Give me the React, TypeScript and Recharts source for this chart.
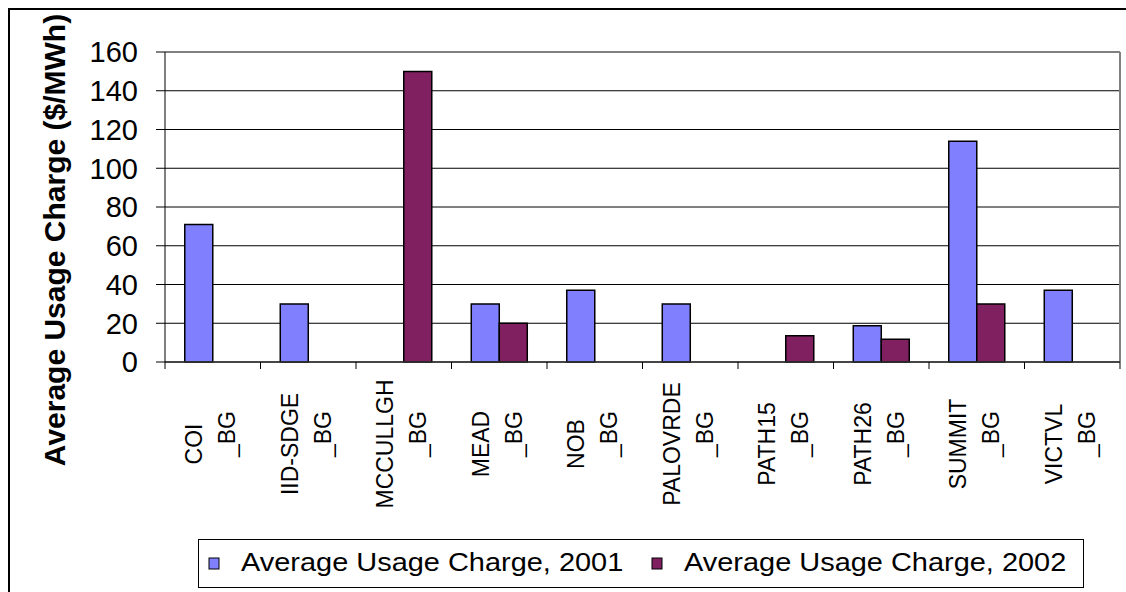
import React from 'react';
import { BarChart, Bar, XAxis, YAxis, CartesianGrid, Legend, Label } from 'recharts';

// Average usage charge by branch group, $/MWh
const categories = [
  'COI_BG',
  'IID-SDGE_BG',
  'MCCULLGH_BG',
  'MEAD_BG',
  'NOB_BG',
  'PALOVRDE_BG',
  'PATH15_BG',
  'PATH26_BG',
  'SUMMIT_BG',
  'VICTVL_BG',
];
const charge2001: (number | null)[] = [71, 30, null, 30, 37, 30, null, 18.7, 114, 37];
const charge2002: (number | null)[] = [null, null, 150, 20, null, null, 13.5, 11.7, 30, null];
const yTicks = [0, 20, 40, 60, 80, 100, 120, 140, 160];
const seriesNames = ['Average Usage Charge, 2001', 'Average Usage Charge, 2002'];
const seriesColors = ['#8080FF', '#802060'];
const yTitle = 'Average Usage Charge ($/MWh)';

const data = categories.map((name, i) => ({
  name,
  y2001: charge2001[i],
  y2002: charge2002[i],
}));

const FONT = "'Liberation Sans', Arial, Helvetica, sans-serif";

// Category label split into two rotated lines, plus tick marks on the band edges
function CategoryTick(props: any) {
  const { x, y, payload, index, visibleTicksCount } = props;
  const half =
    payload && typeof payload.offset === 'number' && payload.offset > 0 ? payload.offset : 47.75;
  const name = String(payload?.value ?? '');
  const cut = name.lastIndexOf('_');
  const line1 = cut > 0 ? name.slice(0, cut) : name;
  const line2 = cut > 0 ? name.slice(cut) : '';
  const count = visibleTicksCount ?? categories.length;
  const isLast = index === count - 1;
  return (
    <g>
      <line x1={x - half} x2={x - half} y1={y} y2={y + 7} stroke="#000" strokeWidth={1} />
      {isLast && <line x1={x + half} x2={x + half} y1={y} y2={y + 7} stroke="#000" strokeWidth={1} />}
      <text
        transform={`translate(${x - 10.75},${y + 82}) rotate(-90)`}
        textAnchor="middle"
        fontSize={23}
        fontFamily={FONT}
        fill="#000"
      >
        {line1}
      </text>
      <text
        transform={`translate(${x + 22.25},${y + 72}) rotate(-90)`}
        textAnchor="middle"
        fontSize={23}
        fontFamily={FONT}
        fill="#000"
      >
        {line2}
      </text>
    </g>
  );
}

function AxisTitle(props: any) {
  const vb = props.viewBox || { x: 65, y: 42, width: 90, height: 310 };
  const cx = vb.x - 10;
  const cy = vb.y + vb.height / 2 + 33;
  return (
    <text
      transform={`translate(${cx},${cy}) rotate(-90)`}
      textAnchor="middle"
      fontSize={30}
      fontWeight="bold"
      fontFamily={FONT}
      fill="#000"
    >
      {yTitle}
    </text>
  );
}

function LegendBox(props: any) {
  const items = (props.payload || []) as any[];
  return (
    <div
      style={{
        width: 886,
        height: 49,
        border: '1px solid #000',
        boxSizing: 'border-box',
        background: '#fff',
      }}
    >
      <svg width={884} height={47} style={{ display: 'block' }}>
        {items.map((it, i) => {
          const x0 = 10 + i * 443;
          return (
            <g key={String(it.value)}>
              <rect x={x0} y={18} width={10} height={11} fill={it.color} stroke="#000" strokeWidth={1} />
              <text
                transform={`translate(${x0 + 32},31) scale(1.158,1)`}
                fontSize={25}
                fontFamily={FONT}
                fill="#000"
              >
                {it.value}
              </text>
            </g>
          );
        })}
      </svg>
    </div>
  );
}

// Gray frame on the top and right edges of the plot area
const frameTop = ({ offset }: any) => [offset.top];
const frameRight = ({ offset }: any) => [offset.left + offset.width];

export default function App() {
  return (
    <div
      style={{
        position: 'fixed',
        left: 8,
        top: 8,
        width: 1118,
        height: 584,
        boxSizing: 'border-box',
        borderLeft: '2px solid #000',
        borderTop: '2px solid #000',
        overflow: 'hidden',
        background: '#fff',
        fontFamily: FONT,
      }}
    >
      <BarChart
        width={1116}
        height={582}
        data={data}
        margin={{ top: 42, right: 6, left: 65, bottom: 60 }}
        barGap={0}
        barCategoryGap="20.7%"
      >
        <CartesianGrid vertical={false} stroke="#000" strokeWidth={1} />
        <CartesianGrid
          stroke="#808080"
          strokeWidth={2}
          horizontalCoordinatesGenerator={frameTop}
          verticalCoordinatesGenerator={frameRight}
        />
        <XAxis
          dataKey="name"
          interval={0}
          height={170}
          tickSize={0}
          tickMargin={0}
          tickLine={false}
          axisLine={{ stroke: '#333', strokeWidth: 1.5 }}
          tick={<CategoryTick />}
        />
        <YAxis
          width={90}
          domain={[0, 160]}
          ticks={yTicks}
          interval={0}
          tickSize={9}
          tickMargin={18}
          tickLine={{ stroke: '#000' }}
          axisLine={{ stroke: '#000' }}
          tick={{ fill: '#000', fontSize: 29, fontFamily: FONT }}
        >
          <Label content={<AxisTitle />} />
        </YAxis>
        <Legend
          layout="horizontal"
          verticalAlign="middle"
          align="center"
          content={<LegendBox />}
          wrapperStyle={{ left: 188, top: 529, width: 886, height: 49, right: 'auto', bottom: 'auto' }}
        />
        <Bar
          dataKey="y2001"
          name={seriesNames[0]}
          fill={seriesColors[0]}
          stroke="#000"
          strokeWidth={1.5}
          isAnimationActive={false}
        />
        <Bar
          dataKey="y2002"
          name={seriesNames[1]}
          fill={seriesColors[1]}
          stroke="#000"
          strokeWidth={1.5}
          isAnimationActive={false}
        />
      </BarChart>
    </div>
  );
}
